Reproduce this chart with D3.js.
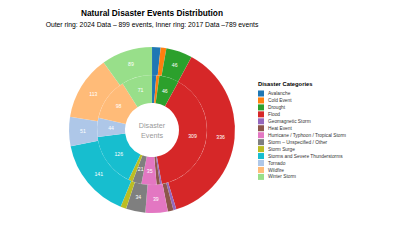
<!DOCTYPE html>
<html>
<head>
<meta charset="utf-8">
<script src="https://cdn.jsdelivr.net/npm/d3@7"></script>
<style>
  body { margin: 0; background: #fff; }
  text { font-family: "Liberation Sans", Arial, sans-serif; }
</style>
</head>
<body>
<div id="chart"></div>
<script>
const categories = ['Avalanche', 'Cold Event', 'Drought', 'Flood', 'Geomagnetic Storm', 'Heat Event',
  'Hurricane / Typhoon / Tropical Storm', 'Storm \u2013 Unspecified / Other', 'Storm Surge',
  'Storms and Severe Thunderstorms', 'Tornado', 'Wildfire', 'Winter Storm']
const colors = ['#1f77b4', '#ff7f0e', '#2ca02c', '#d62728', '#9467bd', '#8c564b', '#e377c2',
  '#7f7f7f', '#bcbd22', '#17becf', '#aec7e8', '#ffbb78', '#98df8a']
const values2024 = [15, 10, 46, 336, 5, 10, 39, 34, 10, 141, 51, 113, 89]
const values2017 = [10, 7, 46, 309, 4, 8, 35, 21, 10, 126, 44, 98, 71]

const w = 397, h = 240,
    cx = 152, cy = 130,
    r0 = 27, r1 = 55, r2 = 83

const svg = d3.select('#chart')
    .append('svg')
    .attr('width', w)
    .attr('height', h)

svg.append('text')
    .attr('x', cx).attr('y', 15.5)
    .attr('text-anchor', 'middle')
    .style('font-size', '8.3px')
    .style('font-weight', 'bold')
    .text('Natural Disaster Events Distribution')

svg.append('text')
    .attr('x', cx).attr('y', 26.5)
    .attr('text-anchor', 'middle')
    .style('font-size', '6.8px')
    .text('Outer ring: 2024 Data \u2013 899 events, Inner ring: 2017 Data \u2013789 events')

const color = d3.scaleOrdinal().domain(categories).range(colors)
const pie = d3.pie().sort(null)
const g = svg.append('g').attr('transform', `translate(${cx},${cy})`)

const drawRing = (vals, inner, outer) => {
    const arc = d3.arc().innerRadius(inner).outerRadius(outer)
    const arcs = pie(vals)
    g.append('g').selectAll('path')
        .data(arcs)
        .enter()
        .append('path')
        .attr('d', arc)
        .attr('fill', (d, i) => color(categories[i]))
        .attr('stroke', 'rgba(255,255,255,0.15)')
        .attr('stroke-width', 0.3)
    g.append('g').selectAll('text')
        .data(arcs.filter(d => d.data >= 20))
        .enter()
        .append('text')
        .attr('transform', d => `translate(${arc.centroid(d)})`)
        .attr('dy', '0.35em')
        .attr('text-anchor', 'middle')
        .style('font-size', '5.2px')
        .style('fill', '#fff')
        .text(d => d.data)
}

drawRing(values2017, r0, r1)
drawRing(values2024, r1, r2)

g.append('text')
    .attr('y', -2.5)
    .attr('text-anchor', 'middle')
    .style('font-size', '7.2px')
    .style('fill', '#999')
    .text('Disaster')
g.append('text')
    .attr('y', 8)
    .attr('text-anchor', 'middle')
    .style('font-size', '7.2px')
    .style('fill', '#999')
    .text('Events')

// legend
const legend = svg.append('g').attr('transform', 'translate(258, 86)')
legend.append('text')
    .style('font-size', '5.8px')
    .style('font-weight', 'bold')
    .text('Disaster Categories')

const rows = legend.selectAll('.row')
    .data(categories)
    .enter()
    .append('g')
    .attr('transform', (d, i) => `translate(0, ${4.5 + i * 6.95})`)
rows.append('rect')
    .attr('width', 6).attr('height', 6)
    .attr('fill', d => color(d))
rows.append('text')
    .attr('x', 10).attr('y', 4.6)
    .style('font-size', '4.8px')
    .style('fill', '#333')
    .text(d => d)
</script>
</body>
</html>
